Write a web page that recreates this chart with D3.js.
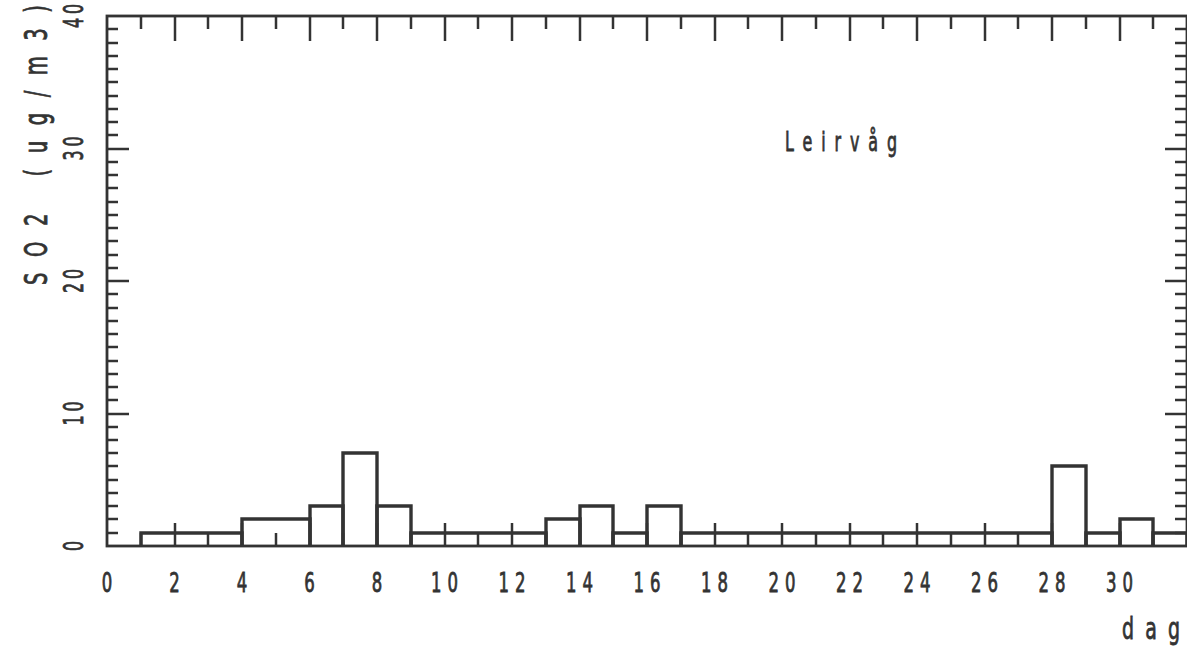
<!DOCTYPE html>
<html>
<head>
<meta charset="utf-8">
<script src="https://cdn.jsdelivr.net/npm/d3@7/dist/d3.min.js"></script>
<style>
  html, body { margin: 0; padding: 0; background: #ffffff; }
  svg { display: block; }
  text { font-family: "DejaVu Sans Condensed", "Liberation Sans Narrow", sans-serif; fill: #333; stroke: #333; stroke-width: 0.8px; }
</style>
</head>
<body>
<svg id="chart" width="1187" height="648"></svg>
<script>
// Daily SO2 means, Leirvåg (day of month -> ug/m3)
const days   = [1,2,3,4,5,6,7,8,9,10,11,12,13,14,15,16,17,18,19,20,21,22,23,24,25,26,27,28,29,30,31];
const so2    = [1,1,1,2,2,3,7,3,1,1,1,1,2,3,1,3,1,1,1,1,1,1,1,1,1,1,1,6,1,2,1];
const xTickLabels = [0,2,4,6,8,10,12,14,16,18,20,22,24,26,28,30];
const yTickLabels = [0,10,20,30,40];
const stationName = "Leirvåg";
const yTitle = "SO2  (ug/m3)";
const xTitle = "dag";

const svg = d3.select("#chart");
const ink = "#333";

const x = d3.scaleLinear().domain([0, 32]).range([107, 1187]);
const y = d3.scaleLinear().domain([0, 40]).range([546, 16]);
const px = v => Math.round(v);

// Merge consecutive days with the same value into one box
const runs = [];
days.forEach((d, i) => {
  const last = runs[runs.length - 1];
  if (last && last.v === so2[i] && last.x1 === d) last.x1 = d + 1;
  else runs.push({ x0: d, x1: d + 1, v: so2[i] });
});

// Ticks: every day on x, every unit on y, long ticks on major values
const ax = svg.append("g").attr("stroke", ink).attr("stroke-width", 2.5);
d3.range(1, 32).forEach(d => {
  const major = d % 2 === 0;
  ax.append("line").attr("x1", px(x(d))).attr("x2", px(x(d)))
    .attr("y1", y(0)).attr("y2", y(0) - (major ? 23 : 13));
  ax.append("line").attr("x1", px(x(d))).attr("x2", px(x(d)))
    .attr("y1", y(40)).attr("y2", y(40) + (major ? 25 : 13));
});
d3.range(1, 40).forEach(v => {
  const major = v % 10 === 0;
  ax.append("line").attr("x1", x(0)).attr("x2", x(0) + (major ? 22 : 11))
    .attr("y1", px(y(v))).attr("y2", px(y(v)));
  ax.append("line").attr("x1", x(32)).attr("x2", x(32) - (major ? 22 : 12))
    .attr("y1", px(y(v))).attr("y2", px(y(v)));
});

// Boxes of the histogram
svg.append("g").selectAll("path").data(runs).join("path")
  .attr("d", r => {
    const p = d3.path();
    p.moveTo(px(x(r.x0)), y(0));
    p.lineTo(px(x(r.x0)), px(y(r.v)));
    p.lineTo(px(x(r.x1)), px(y(r.v)));
    p.lineTo(px(x(r.x1)), y(0));
    return p.toString();
  })
  .attr("fill", "none").attr("stroke", ink).attr("stroke-width", 3.4)
  .attr("stroke-linejoin", "miter");

// Frame
svg.append("rect")
  .attr("x", x(0)).attr("y", y(40))
  .attr("width", x(32) - x(0)).attr("height", y(0) - y(40))
  .attr("fill", "none").attr("stroke", ink).attr("stroke-width", 2.8);

// Narrow, tall plotter-style digits: horizontal squeeze of a condensed face
const squeeze = 0.68;

// X tick labels
svg.append("g").selectAll("text").data(xTickLabels).join("text")
  .attr("transform", d => `translate(${x(d)},592) scale(${squeeze},1)`)
  .attr("text-anchor", "middle")
  .attr("font-size", 27)
  .attr("textLength", d => String(d).length > 1 ? 27 / squeeze : null)
  .attr("lengthAdjust", "spacing")
  .text(d => d);

// Y tick labels, rotated
svg.append("g").selectAll("text").data(yTickLabels).join("text")
  .attr("transform", d => `translate(83,${y(d)}) rotate(-90) scale(${squeeze},1)`)
  .attr("text-anchor", "middle")
  .attr("font-size", 26)
  .attr("textLength", d => String(d).length > 1 ? 24 / squeeze : null)
  .attr("lengthAdjust", "spacing")
  .text(d => d);

// Axis titles and station name
svg.append("text")
  .attr("transform", `translate(47,285) rotate(-90) scale(${squeeze},1)`)
  .attr("font-size", 32)
  .attr("textLength", 280 / squeeze).attr("lengthAdjust", "spacing")
  .text(yTitle);

svg.append("text")
  .attr("transform", `translate(1122,639) scale(${squeeze},1)`)
  .attr("font-size", 31)
  .attr("textLength", 58 / squeeze).attr("lengthAdjust", "spacing")
  .text(xTitle);

svg.append("text")
  .attr("transform", `translate(785,151) scale(${squeeze},1)`)
  .attr("font-size", 26)
  .attr("textLength", 112 / squeeze).attr("lengthAdjust", "spacing")
  .text(stationName);
</script>
</body>
</html>
